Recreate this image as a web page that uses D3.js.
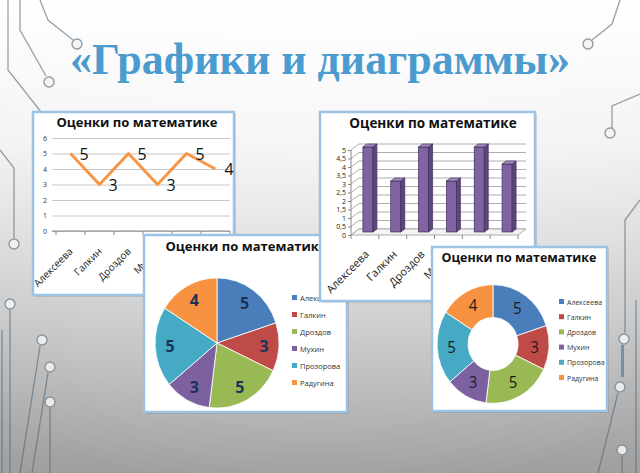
<!DOCTYPE html>
<html>
<head>
<meta charset="utf-8">
<script src="https://cdn.jsdelivr.net/npm/d3@7"></script>
<style>
  body { margin: 0; }
  svg { display: block; }
</style>
</head>
<body>
<svg id="slide"></svg>
<script>
var width = 640, height = 473;
var svg = d3.select("#slide").attr("width", width).attr("height", height);

// data
var names = ["Алексеева", "Галкин", "Дроздов", "Мухин", "Прозорова", "Радугина"];
var marks = [5, 3, 5, 3, 5, 4];
var lineTicks = [0, 1, 2, 3, 4, 5, 6];
var barTicks = [0, 0.5, 1, 1.5, 2, 2.5, 3, 3.5, 4, 4.5, 5];
var sliceColors = ["#4a7ebb", "#be4b48", "#98b954", "#7d60a0", "#46aac5", "#f69240"];
var chartTitle = "Оценки по математике";
var slideTitle = "«Графики и диаграммы»";

var rows = names.map(function(n, i) { return {name: n, value: marks[i], color: sliceColors[i]}; });

// background
var defs = svg.append("defs");
var bg = defs.append("linearGradient").attr("id", "bg").attr("x1", 0).attr("y1", 0).attr("x2", 0).attr("y2", 1);
bg.append("stop").attr("offset", "0%").attr("stop-color", "#ffffff");
bg.append("stop").attr("offset", "30%").attr("stop-color", "#f0f0f0");
bg.append("stop").attr("offset", "100%").attr("stop-color", "#9f9f9f");
var side = defs.append("radialGradient").attr("id", "side").attr("cx", 0.5).attr("cy", 0.15).attr("r", 0.9);
side.append("stop").attr("offset", "0%").attr("stop-color", "#ffffff").attr("stop-opacity", 0.5);
side.append("stop").attr("offset", "100%").attr("stop-color", "#ffffff").attr("stop-opacity", 0);
svg.append("rect").attr("width", width).attr("height", height).attr("fill", "url(#bg)");
svg.append("rect").attr("width", width).attr("height", height).attr("fill", "url(#side)");

// circuit decoration
var wires = [
  "M20,0 L20,30 L46,76", "M40,0 L48,20 L73,40", "M8,0 L8,70 L45,117",
  "M0,150 L14,168 L14,238", "M10,473 L10,310", "M20,473 L40,346",
  "M32,473 L48,373", "M50,473 L50,408", "M2,330 L2,473",
  "M620,0 L612,24 L592,40", "M640,94 L612,106 L612,128",
  "M640,200 L625,220 L625,333", "M598,473 L618,393", "M622,473 L622,456", "M636,473 L636,300"
];
var deco = svg.append("g").attr("class", "deco");
deco.selectAll("path").data(wires).enter().append("path")
  .attr("d", function(d) { return d; })
  .attr("fill", "none").attr("stroke", "#4c6679").attr("stroke-width", 1.3).attr("opacity", 0.6);
var pads = [[49,82], [77,44], [48,123], [14,244], [10,304], [42,340], [50,367], [50,402],
            [588,44], [610,133], [624,339], [620,387], [622,450]];
deco.selectAll("circle").data(pads).enter().append("circle")
  .attr("cx", function(d) { return d[0]; }).attr("cy", function(d) { return d[1]; })
  .attr("r", 5).attr("fill", "#f4f4f4").attr("stroke", "#7d8d99").attr("stroke-width", 1.4).attr("opacity", 0.85);
deco.append("rect").attr("x", 621).attr("y", 345).attr("width", 3).attr("height", 32).attr("fill", "#3d6fa0").attr("opacity", 0.6);

// slide title
svg.append("text").attr("x", 320).attr("y", 74).attr("text-anchor", "middle")
  .style("font-family", "'Liberation Serif', 'Times New Roman', serif")
  .style("font-weight", "bold").style("font-size", "44px").attr("fill", "#4a9bcf")
  .text(slideTitle);

function panel(x0, y0, x1, y1, tx, ty, fs) {
  var g = svg.append("g");
  g.append("rect").attr("x", x0 + 2).attr("y", y0 + 2).attr("width", x1 - x0).attr("height", y1 - y0)
    .attr("fill", "#000").attr("opacity", 0.12);
  g.append("rect").attr("x", x0).attr("y", y0).attr("width", x1 - x0).attr("height", y1 - y0)
    .attr("fill", "#fff").attr("stroke", "#9cc3e4").attr("stroke-width", 2.5);
  g.append("text").attr("x", tx).attr("y", ty).attr("text-anchor", "middle")
    .style("font-family", "'Open Sans', sans-serif").style("font-weight", "bold")
    .style("font-size", fs + "px").attr("fill", "#111").text(chartTitle);
  return g;
}
var sans = "'Open Sans', 'Liberation Sans', sans-serif";

// ---- line chart
var g1 = panel(33, 112, 234, 295, 137, 127, 13);
var x1 = d3.scaleBand().domain(names).range([56, 230]);
var y1 = d3.scaleLinear().domain([0, 6]).range([231, 138]);
g1.append("g").attr("transform", "translate(52,0)")
  .call(d3.axisLeft(y1).tickValues(lineTicks).tickSize(-178).tickPadding(5).tickFormat(d3.format("d")))
  .call(function(a) {
    a.select(".domain").remove();
    a.selectAll(".tick line").attr("stroke", "#c8c8c8");
    a.selectAll("text").style("font-family", sans).style("font-size", "7px").attr("fill", "#333");
  });
g1.append("line").attr("x1", 52).attr("x2", 230).attr("y1", y1(0)).attr("y2", y1(0)).attr("stroke", "#888");
g1.selectAll(".xt").data(names.concat([null])).enter().append("line")
  .attr("x1", function(d, i) { return 56 + i * x1.bandwidth(); })
  .attr("x2", function(d, i) { return 56 + i * x1.bandwidth(); })
  .attr("y1", y1(0)).attr("y2", y1(0) + 4).attr("stroke", "#888");
g1.append("path").datum(rows)
  .attr("d", d3.line().x(function(d) { return x1(d.name) + x1.bandwidth() / 2; }).y(function(d) { return y1(d.value); }))
  .attr("fill", "none").attr("stroke", "#f79646").attr("stroke-width", 3).attr("stroke-linejoin", "round");
g1.selectAll(".lbl").data(rows).enter().append("text")
  .attr("x", function(d) { return x1(d.name) + x1.bandwidth() / 2 + 9; })
  .attr("y", function(d) { return y1(d.value) + 6; })
  .style("font-family", sans).style("font-size", "16px").attr("fill", "#111")
  .text(function(d) { return d.value; });
g1.selectAll(".xl").data(names).enter().append("text")
  .attr("transform", function(d) { return "translate(" + (x1(d) + x1.bandwidth() / 2 + 3) + "," + 252 + ") rotate(-45)"; })
  .attr("text-anchor", "end").style("font-family", sans).style("font-size", "10px").attr("fill", "#222")
  .text(function(d) { return d; });

// ---- pie chart
var g3 = panel(144, 235, 347, 412, 246, 251, 13);
var pie = d3.pie().sort(null).value(function(d) { return d.value; });
var rPie = 62;
var arcPie = d3.arc().innerRadius(0).outerRadius(rPie);
var lblPie = d3.arc().innerRadius(rPie * 0.76).outerRadius(rPie * 0.76);
var pg = g3.append("g").attr("transform", "translate(217,343) scale(1,1.05)");
pg.selectAll("path").data(pie(rows)).enter().append("path")
  .attr("d", arcPie).attr("fill", function(d) { return d.data.color; })
  .attr("stroke", "#fff").attr("stroke-width", 0.8);
pg.selectAll("text").data(pie(rows)).enter().append("text")
  .attr("transform", function(d) { var c = lblPie.centroid(d); return "translate(" + c[0] + "," + (c[1] + 6) + ")"; })
  .attr("text-anchor", "middle").style("font-family", sans).style("font-weight", "bold")
  .style("font-size", "16px").attr("fill", "#1b3359").text(function(d) { return d.data.value; });
var ly3 = d3.scalePoint().domain(names).range([298, 383]);
var lg3 = g3.selectAll(".lg").data(rows).enter().append("g")
  .attr("transform", function(d) { return "translate(292," + ly3(d.name) + ")"; });
lg3.append("rect").attr("x", 0).attr("y", -3).attr("width", 5).attr("height", 5).attr("fill", function(d) { return d.color; });
lg3.append("text").attr("x", 8).attr("y", 2.5).style("font-family", sans).style("font-size", "7.5px")
  .attr("fill", "#333").text(function(d) { return d.name; });

// ---- 3d column chart
var g2 = panel(320, 112, 535, 301, 433, 128, 13.5);
var x2 = d3.scaleBand().domain(names).range([351, 518]);
var y2 = d3.scaleLinear().domain([0, 5]).range([235, 150]);
var dx = 8, dy = -6;
var walls = g2.append("g");
walls.selectAll("polyline").data(barTicks).enter().append("polyline")
  .attr("points", function(v) {
    var yy = y2(v);
    return [[351, yy], [351 + dx, yy + dy], [518 + dx, yy + dy]].map(String).join(" ");
  })
  .attr("fill", "none").attr("stroke", "#9a9a9a").attr("stroke-width", 0.8);
walls.append("polygon")
  .attr("points", [[351, y2(0)], [518, y2(0)], [518 + dx, y2(0) + dy], [351 + dx, y2(0) + dy]].map(String).join(" "))
  .attr("fill", "#f4f4f4").attr("stroke", "#999").attr("stroke-width", 0.8);
walls.append("line").attr("x1", 351).attr("x2", 351).attr("y1", y2(0)).attr("y2", y2(5)).attr("stroke", "#888");
walls.selectAll(".xt").data(names.concat([null])).enter().append("line")
  .attr("x1", function(d, i) { return 351 + i * x2.bandwidth(); })
  .attr("x2", function(d, i) { return 351 + i * x2.bandwidth(); })
  .attr("y1", y2(0)).attr("y2", y2(0) + 4).attr("stroke", "#888");
g2.append("g").attr("transform", "translate(351,0)")
  .call(d3.axisLeft(y2).tickValues(barTicks).tickSize(3).tickPadding(2)
    .tickFormat(function(v) { return String(v).replace(".", ","); }))
  .call(function(a) {
    a.select(".domain").remove();
    a.selectAll(".tick line").attr("stroke", "#888");
    a.selectAll("text").style("font-family", sans).style("font-size", "7px").attr("fill", "#222");
  });
var bw = 10, bd = 4, bh = -3;
var bars = g2.selectAll(".bar").data(rows).enter().append("g")
  .attr("transform", function(d) { return "translate(" + (x2(d.name) + x2.bandwidth() / 2 - 2) + ",-3)"; });
bars.append("rect").attr("x", 0).attr("width", bw)
  .attr("y", function(d) { return y2(d.value); })
  .attr("height", function(d) { return y2(0) - y2(d.value); })
  .attr("fill", "#8064a2").attr("stroke", "#3f2d59").attr("stroke-width", 0.7);
bars.append("polygon")
  .attr("points", function(d) {
    var t = y2(d.value), b = y2(0);
    return [[bw, t], [bw + bd, t + bh], [bw + bd, b + bh], [bw, b]].map(String).join(" ");
  })
  .attr("fill", "#5c4680").attr("stroke", "#3f2d59").attr("stroke-width", 0.7);
bars.append("polygon")
  .attr("points", function(d) {
    var t = y2(d.value);
    return [[0, t], [bd, t + bh], [bw + bd, t + bh], [bw, t]].map(String).join(" ");
  })
  .attr("fill", "#a08cc0").attr("stroke", "#3f2d59").attr("stroke-width", 0.7);
g2.selectAll(".xl").data(names).enter().append("text")
  .attr("transform", function(d) { return "translate(" + (x2(d) + x2.bandwidth() / 2 + 5) + "," + 255 + ") rotate(-45)"; })
  .attr("text-anchor", "end").style("font-family", sans).style("font-size", "11px").attr("fill", "#222")
  .text(function(d) { return d; });

// ---- doughnut chart
var g4 = panel(432, 247, 607, 411, 519, 262, 12.5);
var rOut = 56, rIn = 25;
var arcDon = d3.arc().innerRadius(rIn).outerRadius(rOut);
var lblDon = d3.arc().innerRadius((rIn + rOut) / 2 + 1).outerRadius((rIn + rOut) / 2 + 1);
var dg = g4.append("g").attr("transform", "translate(493,344) scale(1,1.06)");
dg.selectAll("path").data(pie(rows)).enter().append("path")
  .attr("d", arcDon).attr("fill", function(d) { return d.data.color; })
  .attr("stroke", "#fff").attr("stroke-width", 0.8);
dg.selectAll("text").data(pie(rows)).enter().append("text")
  .attr("transform", function(d) { var c = lblDon.centroid(d); return "translate(" + c[0] + "," + (c[1] + 5.5) + ")"; })
  .attr("text-anchor", "middle").style("font-family", sans)
  .style("font-size", "15px").attr("fill", "#1a1a1a").text(function(d) { return d.data.value; });
var ly4 = d3.scalePoint().domain(names).range([302, 378]);
var lg4 = g4.selectAll(".lg").data(rows).enter().append("g")
  .attr("transform", function(d) { return "translate(559," + ly4(d.name) + ")"; });
lg4.append("rect").attr("x", 0).attr("y", -3).attr("width", 5).attr("height", 5).attr("fill", function(d) { return d.color; });
lg4.append("text").attr("x", 8).attr("y", 2.5).style("font-family", sans).style("font-size", "7px")
  .attr("fill", "#333").text(function(d) { return d.name; });
</script>
</body>
</html>
